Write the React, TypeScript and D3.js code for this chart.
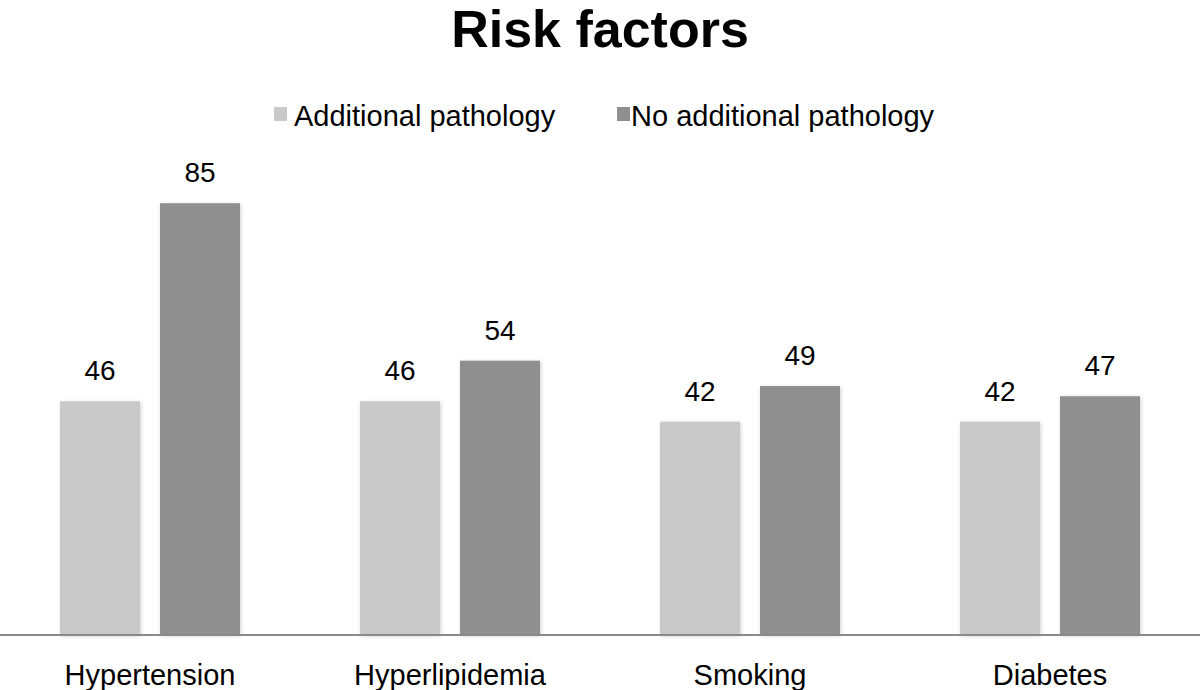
import React from "react";
import * as d3 from "d3";

const categories = ["Hypertension", "Hyperlipidemia", "Smoking", "Diabetes"];
const seriesNames = ["Additional pathology", "No additional pathology"];
const additional = [46, 46, 42, 42];
const noAdditional = [85, 54, 49, 47];
const colors = ["#c9c9c9", "#8f8f8f"];

const W = 1200;
const H = 690;
const baseY = 635;

export default function App() {
  const x0 = d3.scaleBand<string>().domain(categories).range([0, W]).paddingInner(0).paddingOuter(0);
  const x1 = d3.scaleBand<string>().domain(seriesNames).range([0, x0.bandwidth()]).paddingInner(0.2).paddingOuter(0.6);
  const y = d3.scaleLinear().domain([0, 100]).range([baseY, 127]);
  const series = [additional, noAdditional];
  const font = "'Liberation Sans', Arial, Helvetica, sans-serif";

  return (
    <svg width={W} height={H} style={{ position: "absolute", left: 0, top: 0 }} fontFamily={font}>
      <defs>
        <filter id="sh" x="-20%" y="-5%" width="140%" height="110%">
          <feGaussianBlur in="SourceAlpha" stdDeviation="2" />
          <feOffset dx="1" dy="1" result="b" />
          <feComponentTransfer>
            <feFuncA type="linear" slope="0.18" />
          </feComponentTransfer>
          <feMerge>
            <feMergeNode />
            <feMergeNode in="SourceGraphic" />
          </feMerge>
        </filter>
      </defs>
      <rect width={W} height={H} fill="#fff" />
      <text x={W / 2} y={47} textAnchor="middle" fontSize={52} fontWeight="bold" fill="#000">
        Risk factors
      </text>
      {/* legend */}
      <rect x={274} y={107} width={13} height={14} fill={colors[0]} />
      <text x={294} y={126} fontSize={29} fill="#000">{seriesNames[0]}</text>
      <rect x={617} y={107} width={13} height={14} fill={colors[1]} />
      <text x={631} y={126} fontSize={29} fill="#000">{seriesNames[1]}</text>
      {categories.map((c, i) => (
        <g key={c} transform={`translate(${x0(c)},0)`}>
          {series.map((s, j) => {
            const bx = x1(seriesNames[j])!;
            const bw = x1.bandwidth();
            return (
              <g key={j}>
                <rect x={bx} y={y(s[i])} width={bw} height={baseY - y(s[i])} fill={colors[j]} filter="url(#sh)" />
                <text x={bx + bw / 2} y={y(s[i]) - 21} textAnchor="middle" fontSize={28} fill="#000">
                  {s[i]}
                </text>
              </g>
            );
          })}
          <text x={x0.bandwidth() / 2} y={685} textAnchor="middle" fontSize={29} fill="#000">
            {c}
          </text>
        </g>
      ))}
      <line x1={0} x2={W} y1={baseY} y2={baseY} stroke="#8a8a8a" strokeWidth={2} />
    </svg>
  );
}
